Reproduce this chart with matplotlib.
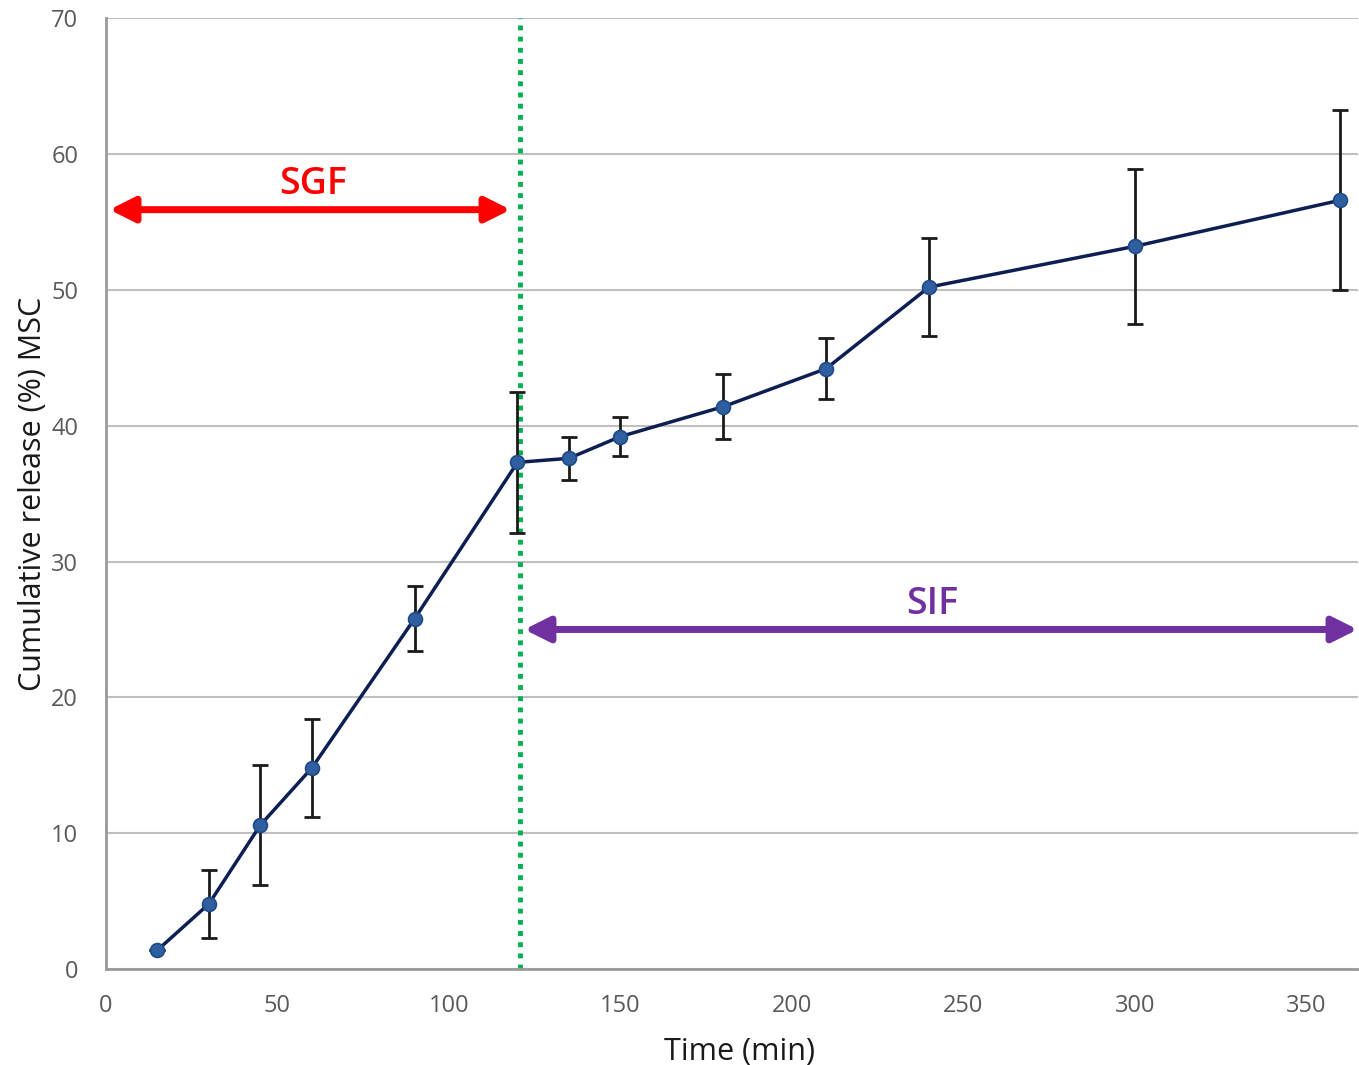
import matplotlib
matplotlib.use("Agg")
import matplotlib.pyplot as plt

time_min = [15, 30, 45, 60, 90, 120, 135, 150, 180, 210, 240, 300, 360]
release = [1.4, 4.8, 10.6, 14.8, 25.8, 37.3, 37.6, 39.2, 41.4, 44.2, 50.2, 53.2, 56.6]
err = [0.0, 2.5, 4.4, 3.6, 2.4, 5.2, 1.6, 1.45, 2.4, 2.25, 3.6, 5.7, 6.6]
x_ticks = [0, 50, 100, 150, 200, 250, 300, 350]
y_ticks = [0, 10, 20, 30, 40, 50, 60, 70]
switch_time = 120.8
sgf_span = [1, 118]
sif_span = [122, 365]
sgf_y = 55.9
sif_y = 25.0

plt.rcParams['font.family'] = ['Open Sans', 'DejaVu Sans']

fig = plt.figure(figsize=(13.59, 10.65), dpi=100)
ax = fig.add_axes([0.078, 0.090, 0.9215, 0.893])

ax.errorbar(time_min, release, yerr=err, fmt='none', ecolor='#1a1a1a',
            elinewidth=2, capsize=6, capthick=2, zorder=3)
ax.plot(time_min, release, color='#0d1f52', lw=2.5, marker='o', ms=10,
        mfc='#2f5fa0', mec='#1f4a86', mew=1.2, zorder=4)

ax.axvline(switch_time, color='#00b050', lw=3.5, ls=(0, (1, 1.3)), zorder=2)

ax.annotate('', xy=(sgf_span[0], sgf_y), xytext=(sgf_span[1], sgf_y),
            arrowprops=dict(arrowstyle='<|-|>,head_length=1.5,head_width=0.75',
                            color='#ff0000', lw=5, shrinkA=0, shrinkB=0))
ax.text((sgf_span[0] + sgf_span[1]) / 2 + 1, sgf_y + 0.5, 'SGF', color='#ff0000',
        fontsize=27, fontweight='semibold', ha='center', va='bottom')
ax.annotate('', xy=(sif_span[0], sif_y), xytext=(sif_span[1], sif_y),
            arrowprops=dict(arrowstyle='<|-|>,head_length=1.5,head_width=0.75',
                            color='#7030a0', lw=5, shrinkA=0, shrinkB=0))
ax.text(241, sif_y + 0.5, 'SIF', color='#7030a0',
        fontsize=27, fontweight='semibold', ha='center', va='bottom')

ax.set_xlim(0, 365.2)
ax.set_ylim(0, 70)
ax.set_xticks(x_ticks)
ax.set_yticks(y_ticks)
ax.grid(axis='y', color='#bfbfbf', lw=1.5)
ax.set_axisbelow(True)
for s in ['top', 'right']:
    ax.spines[s].set_visible(False)
for s in ['left', 'bottom']:
    ax.spines[s].set_color('#9a9a9a')
    ax.spines[s].set_linewidth(2)
ax.tick_params(axis='both', length=0, labelsize=17, labelcolor='#595959')
ax.tick_params(axis='x', pad=18)
ax.tick_params(axis='y', pad=20)
ax.set_xlabel('Time (min)', fontsize=22, color='#1a1a1a')
ax.xaxis.set_label_coords(0.506, -0.071)
ax.set_ylabel('Cumulative release (%) MSC', fontsize=22, color='#1a1a1a', labelpad=2)

fig.savefig('out.png', dpi=100)
